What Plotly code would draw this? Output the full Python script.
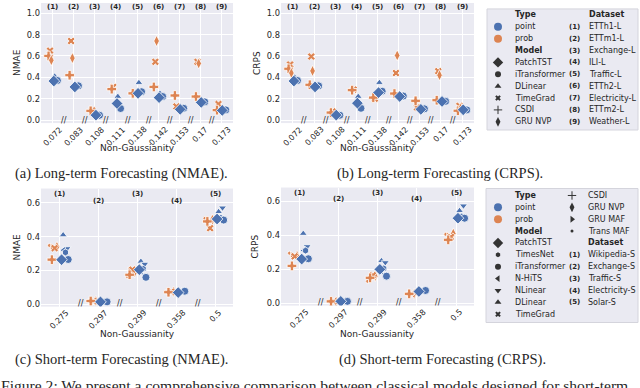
import plotly.graph_objects as go

W, H = 640, 388
BLUE, ORANGE = "#4c72b0", "#dd8452"
BG = "#eaeaf2"
INK = "#262626"
SANS = "DejaVu Sans"
SERIF = "Liberation Serif"

# ---------------- long-term data (9 datasets) ----------------
long_ticks = ["0.072", "0.083", "0.108", "0.111", "0.138", "0.142", "0.153", "0.17", "0.173"]
long_sets = ["ETTh1-L", "ETTm1-L", "Exchange-L", "ILI-L", "Traffic-L",
             "ETTh2-L", "Electricity-L", "ETTm2-L", "Weather-L"]

nmae_l_patchtst = [0.365, 0.31, 0.046, 0.155, 0.25, 0.21, 0.10, 0.165, 0.09]
nmae_l_itrans = [0.37, 0.32, 0.045, 0.108, 0.265, 0.22, 0.11, 0.17, 0.095]
nmae_l_dlinear = [0.41, 0.32, 0.05, 0.22, 0.35, 0.25, 0.11, 0.17, 0.10]
nmae_l_timegrad = [0.65, 0.74, 0.09, 0.31, 0.25, 0.545, 0.127, 0.545, 0.15]
nmae_l_csdi = [0.60, 0.42, 0.086, 0.29, 0.25, 0.31, 0.23, 0.22, 0.093]
nmae_l_grunvp = [0.56, 0.58, None, None, None, 0.74, None, 0.53, None]

crps_l_patchtst = [0.365, 0.31, 0.046, 0.158, 0.257, 0.22, 0.10, 0.174, 0.096]
crps_l_itrans = [0.37, 0.32, 0.045, 0.11, 0.27, 0.225, 0.105, 0.175, 0.095]
crps_l_dlinear = [0.40, 0.32, 0.05, 0.22, 0.35, 0.24, 0.11, 0.18, 0.10]
crps_l_timegrad = [0.52, 0.595, 0.08, 0.285, 0.20, 0.44, 0.118, 0.458, 0.133]
crps_l_csdi = [0.48, 0.33, 0.07, 0.28, 0.21, 0.248, 0.18, 0.186, 0.087]
crps_l_grunvp = [0.44, 0.46, None, None, None, 0.605, None, 0.42, 0.11]

# ---------------- short-term data (5 datasets) ----------------
short_ticks = ["0.275", "0.297", "0.299", "0.358", "0.5"]
short_sets = ["Wikipedia-S", "Exchange-S", "Traffic-S", "Electricity-S", "Solar-S"]

nmae_s_patchtst = [0.264, 0.015, 0.205, 0.07, 0.504]
nmae_s_timesnet = [0.307, 0.015, 0.21, 0.075, 0.51]
nmae_s_itrans = [0.265, 0.015, 0.16, 0.078, 0.498]
nmae_s_nhits = [0.32, 0.015, 0.195, 0.075, 0.51]
nmae_s_nlinear = [0.33, 0.015, 0.238, 0.08, 0.57]
nmae_s_dlinear = [0.41, 0.015, 0.254, 0.08, 0.547]
nmae_s_timegrad = [0.332, 0.02, 0.205, 0.075, 0.45]
nmae_s_csdi = [0.264, 0.02, 0.175, 0.072, 0.49]
nmae_s_grunvp = [0.34, 0.02, 0.19, 0.075, 0.50]
nmae_s_grumaf = [0.34, 0.02, 0.20, 0.075, 0.50]
nmae_s_transmaf = [0.348, 0.02, 0.165, 0.075, 0.508]

crps_s_patchtst = [0.26, 0.012, 0.20, 0.07, 0.50]
crps_s_timesnet = [0.31, 0.012, 0.205, 0.075, 0.51]
crps_s_itrans = [0.262, 0.012, 0.16, 0.076, 0.50]
crps_s_nhits = [0.31, 0.012, 0.19, 0.075, 0.51]
crps_s_nlinear = [0.334, 0.012, 0.24, 0.08, 0.573]
crps_s_dlinear = [0.41, 0.012, 0.25, 0.08, 0.544]
crps_s_timegrad = [0.276, 0.012, 0.165, 0.056, 0.39]
crps_s_csdi = [0.22, 0.012, 0.15, 0.056, 0.373]
crps_s_grunvp = [0.28, 0.012, 0.16, 0.056, 0.41]
crps_s_grumaf = [0.285, 0.012, 0.14, 0.056, 0.40]
crps_s_transmaf = [0.295, 0.012, 0.13, 0.055, 0.406]

# model style: symbol, size, colour, dodge offset (category units)
style = {
    "PatchTST": ("diamond", 9, BLUE, 0.05),
    "TimesNet": ("hexagon", 7, BLUE, 0.15),
    "iTransformer": ("circle", 8, BLUE, 0.22),
    "N-HiTS": ("triangle-left", 7, BLUE, 0.10),
    "NLinear": ("triangle-down", 7, BLUE, 0.19),
    "DLinear": ("triangle-up", 7, BLUE, 0.09),
    "TimeGrad": ("x", 7, ORANGE, -0.13),
    "CSDI": ("cross", 8, ORANGE, -0.2),
    "GRU NVP": ("diamond-tall", 8, ORANGE, -0.07),
    "GRU MAF": ("triangle-right", 6, ORANGE, -0.2),
    "Trans MAF": ("circle", 4, ORANGE, -0.26),
}

nmae_long = {"TimeGrad": nmae_l_timegrad, "CSDI": nmae_l_csdi, "GRU NVP": nmae_l_grunvp,
             "DLinear": nmae_l_dlinear, "iTransformer": nmae_l_itrans, "PatchTST": nmae_l_patchtst}
crps_long = {"TimeGrad": crps_l_timegrad, "CSDI": crps_l_csdi, "GRU NVP": crps_l_grunvp,
             "DLinear": crps_l_dlinear, "iTransformer": crps_l_itrans, "PatchTST": crps_l_patchtst}
nmae_short = {"Trans MAF": nmae_s_transmaf, "GRU MAF": nmae_s_grumaf, "GRU NVP": nmae_s_grunvp,
              "TimeGrad": nmae_s_timegrad, "CSDI": nmae_s_csdi, "DLinear": nmae_s_dlinear,
              "NLinear": nmae_s_nlinear, "N-HiTS": nmae_s_nhits, "TimesNet": nmae_s_timesnet,
              "iTransformer": nmae_s_itrans, "PatchTST": nmae_s_patchtst}
crps_short = {"Trans MAF": crps_s_transmaf, "GRU MAF": crps_s_grumaf, "GRU NVP": crps_s_grunvp,
              "TimeGrad": crps_s_timegrad, "CSDI": crps_s_csdi, "DLinear": crps_s_dlinear,
              "NLinear": crps_s_nlinear, "N-HiTS": crps_s_nhits, "TimesNet": crps_s_timesnet,
              "iTransformer": crps_s_itrans, "PatchTST": crps_s_patchtst}


def dom_x(a, b):
    return [a / W, b / W]


def dom_y(top, bottom):
    return [1 - bottom / H, 1 - top / H]


def ax_id(n):
    return ("x", "y") if n == 1 else (f"x{n}", f"y{n}")


def ax_key(n):
    return ("xaxis", "yaxis") if n == 1 else (f"xaxis{n}", f"yaxis{n}")


def note(x, y, text, size=9, family=SANS, xref="paper", yref="paper", **kw):
    if xref == "paper":
        x = x / W
    if yref == "paper":
        y = 1 - y / H
    d = dict(x=x, y=y, xref=xref, yref=yref, text=text, showarrow=False,
             xanchor="center", yanchor="middle", font=dict(family=family, size=size, color=INK))
    d.update(kw)
    return d


panels = [
    dict(n=1, data=nmae_long, ticks=long_ticks, px=(41, 233), py=(3, 124), xr=[-0.56, 8.56],
         yr=[-0.028, 1.096], yt=[0, 0.2, 0.4, 0.6, 0.8, 1.0], lab=[1.056] * 9, ytitle="NMAE", tx=17),
    dict(n=2, data=crps_long, ticks=long_ticks, px=(281, 474), py=(3, 124), xr=[-0.56, 8.56],
         yr=[-0.028, 1.096], yt=[0, 0.2, 0.4, 0.6, 0.8, 1.0], lab=[1.056] * 9, ytitle="CRPS", tx=257),
    dict(n=3, data=nmae_short, ticks=short_ticks, px=(41, 233), py=(190, 309), xr=[-0.48, 4.46],
         yr=[-0.013, 0.684], yt=[0, 0.2, 0.4, 0.6], lab=[0.65, 0.61, 0.65, 0.61, 0.65], ytitle="NMAE", tx=17),
    dict(n=4, data=crps_short, ticks=short_ticks, px=(281, 474), py=(189, 308), xr=[-0.48, 4.46],
         yr=[-0.013, 0.68], yt=[0, 0.2, 0.4, 0.6], lab=[0.65, 0.61, 0.65, 0.61, 0.65], ytitle="CRPS", tx=255),
]

fig = go.Figure()
annotations = []
layout = {}

for p in panels:
    n = p["n"]
    xa, ya = ax_id(n)
    xk, yk = ax_key(n)
    for model, vals in p["data"].items():
        sym, size, col, off = style[model]
        xs = [i + off for i, v in enumerate(vals) if v is not None]
        ys = [v for v in vals if v is not None]
        fig.add_trace(go.Scatter(x=xs, y=ys, mode="markers", xaxis=xa, yaxis=ya, name=model,
                                 marker=dict(symbol=sym, size=size, color=col,
                                             line=dict(color="white", width=0.8))))
    k = len(p["ticks"])
    layout[xk] = dict(domain=dom_x(*p["px"]), anchor=ya, range=p["xr"],
                      tickvals=list(range(k)), showticklabels=False,
                      showgrid=True, gridcolor="white", gridwidth=1, zeroline=False,
                      ticks="", fixedrange=True)
    layout[yk] = dict(domain=dom_y(*p["py"]), anchor=xa, range=p["yr"],
                      tickvals=p["yt"], ticktext=[f"{t:.1f}" for t in p["yt"]],
                      showgrid=True, gridcolor="white", gridwidth=1, zeroline=False,
                      ticks="", tickfont=dict(family=SANS, size=8.3, color=INK), fixedrange=True)
    for i in range(k):
        # rotated tick label, centred under its tick (matplotlib style)
        annotations.append(note(i, 0, p["ticks"][i], size=8, xref=xa, yref=f"{ya} domain",
                                textangle=-45, yanchor="top", yshift=1))
        # dataset index labels
        annotations.append(note(i, p["lab"][i], f"<b>({i + 1})</b>", size=7, xref=xa, yref=ya))
    # axis breaks
    for i in range(k - 1):
        annotations.append(note(i + 0.55, 0, "//", size=8, xref=xa, yref=f"{ya} domain", yshift=3))
    # axis titles
    x0, x1 = p["px"]
    y0, y1 = p["py"]
    annotations.append(note(p["tx"], (y0 + y1) / 2, p["ytitle"], textangle=-90))
    annotations.append(note((x0 + x1) / 2, 149 if n <= 2 else 337, "Non-Gaussianity"))

# ---------------- legend boxes (own pixel axes) ----------------
boxes = {5: (487, 638, 9, 131), 6: (486, 638, 190, 325)}
for n, (bx0, bx1, by0, by1) in boxes.items():
    layout[f"xaxis{n}"] = dict(domain=dom_x(bx0, bx1), range=[bx0, bx1], anchor=f"y{n}",
                               visible=False, fixedrange=True)
    layout[f"yaxis{n}"] = dict(domain=dom_y(by0, by1), range=[by1, by0], anchor=f"x{n}",
                               visible=False, fixedrange=True)

GREY = "#333333"
legend_top = [
    ("Type", None), ("point", ("circle", 8, BLUE)), ("prob", ("circle", 8, ORANGE)),
    ("Model", None), ("PatchTST", ("diamond", 8, GREY)), ("iTransformer", ("circle", 6, GREY)),
    ("DLinear", ("triangle-up", 6, GREY)), ("TimeGrad", ("x", 5, GREY)),
    ("CSDI", ("cross-thin", 6, GREY)), ("GRU NVP", ("diamond-tall", 7, GREY)),
]
legend_bot1 = [
    ("Type", None), ("point", ("circle", 8, BLUE)), ("prob", ("circle", 8, ORANGE)),
    ("Model", None), ("PatchTST", ("diamond", 8, GREY)), ("TimesNet", ("hexagon", 5, GREY)),
    ("iTransformer", ("circle", 6, GREY)), ("N-HiTS", ("triangle-left", 6, GREY)),
    ("NLinear", ("triangle-down", 6, GREY)), ("DLinear", ("triangle-up", 6, GREY)),
    ("TimeGrad", ("x", 5, GREY)),
]
legend_bot2 = [
    ("CSDI", ("cross-thin", 6, GREY)), ("GRU NVP", ("diamond-tall", 7, GREY)),
    ("GRU MAF", ("triangle-right", 6, GREY)), ("Trans MAF", ("circle", 3, GREY)),
]


def add_entries(n, entries, y0, mx, tx):
    for r, (label, mk) in enumerate(entries):
        y = y0 + 11.97 * r
        text = f"<b>{label}</b>" if mk is None else label
        annotations.append(note(tx, y, text, size=8, xref=f"x{n}", yref=f"y{n}", xanchor="left"))
        if mk:
            fig.add_trace(go.Scatter(x=[mx], y=[y], mode="markers", xaxis=f"x{n}", yaxis=f"y{n}",
                                     marker=dict(symbol=mk[0], size=mk[1], color=mk[2],
                                                 line=dict(width=1 if mk[0] == "cross-thin" else 0,
                                                           color=mk[2]))))


def add_sets(n, names, y0, start_row):
    tx = 587 if n == 5 else 586
    annotations.append(note(tx, y0 + 11.97 * (start_row - 1), "<b>Dataset</b>", size=8,
                            xref=f"x{n}", yref=f"y{n}", xanchor="left"))
    for i, name in enumerate(names):
        y = y0 + 11.97 * (start_row + i)
        annotations.append(note(567, y, f"<b>({i + 1})</b>", size=7, xref=f"x{n}", yref=f"y{n}",
                                xanchor="left"))
        annotations.append(note(tx, y, name, size=8, xref=f"x{n}", yref=f"y{n}", xanchor="left"))


add_entries(5, legend_top, 15, 498, 513)
add_sets(5, long_sets, 15, 1)
add_entries(6, legend_bot1, 197, 498, 513)
add_entries(6, legend_bot2, 197, 572, 586)
add_sets(6, short_sets, 197, 5)

shapes = []
for n, (bx0, bx1, by0, by1) in boxes.items():
    shapes.append(dict(type="rect", xref="paper", yref="paper", x0=bx0 / W, x1=bx1 / W,
                       y0=1 - by1 / H, y1=1 - by0 / H, line=dict(color="#d4d4dc", width=1),
                       fillcolor="rgba(0,0,0,0)", layer="above"))

# ---------------- captions ----------------
captions = [
    ("(a) Long-term Forecasting (NMAE).", 121, 175),
    ("(b) Long-term Forecasting (CRPS).", 440, 175),
    ("(c) Short-term Forecasting (NMAE).", 121, 362),
    ("(d) Short-term Forecasting (CRPS).", 442, 362),
]
for text, cx, cy in captions:
    annotations.append(note(cx, cy, text, size=14.5, family=SERIF))
annotations.append(note(-1, 389, "Figure 2: We present a comprehensive comparison between "
                                 "classical models designed for short-term",
                        size=15.6, family=SERIF, xanchor="left"))

fig.update_layout(width=W, height=H, margin=dict(l=0, r=0, t=0, b=0),
                  paper_bgcolor="white", plot_bgcolor=BG, showlegend=False,
                  annotations=annotations, shapes=shapes, **layout)

# page body has a default 8px margin; drop it so the figure fills the window
fig.write_html("out.html", config={"displayModeBar": False},
               post_script="document.body.style.margin='0';document.body.style.overflow='hidden';")
